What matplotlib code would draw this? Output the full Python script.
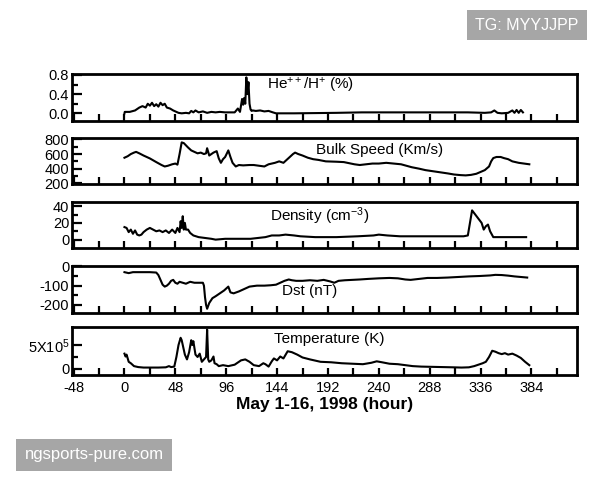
import matplotlib
matplotlib.use("Agg")
import matplotlib.pyplot as plt
from matplotlib.ticker import MultipleLocator, FixedLocator

plt.rcParams['font.family'] = ['Liberation Sans', 'DejaVu Sans']
plt.rcParams['mathtext.fontset'] = 'custom'
plt.rcParams['mathtext.rm'] = 'Liberation Sans'
plt.rcParams['mathtext.it'] = 'Liberation Sans'
plt.rcParams['axes.unicode_minus'] = False

# ---- data (hours since May 1, 1998) ----
he_hours = [0, 0.3, 5, 10, 14, 17, 20, 22, 24, 26, 28, 30, 32, 34, 36, 38, 40, 43, 46, 48, 51, 54, 58, 61, 63, 65, 67,
            70, 74, 78, 82, 86, 90, 95, 100, 104, 107, 109, 111, 112, 113, 114, 115, 116, 117, 118, 119, 120, 121,
            124, 128, 132, 136, 140, 143, 160, 200, 224, 260, 300, 324, 340, 346, 349, 352, 356, 362, 366, 368, 370,
            372, 374, 376]
he_vals = [0.0, 0.03, 0.03, 0.06, 0.12, 0.15, 0.12, 0.2, 0.16, 0.22, 0.15, 0.19, 0.14, 0.22, 0.17, 0.2, 0.12, 0.1, 0.06,
           0.04, 0.01, 0.0, 0.01, 0.0, 0.05, 0.02, 0.06, 0.02, 0.04, 0.01, 0.03, 0.02, 0.03, 0.02, 0.02, 0.02, 0.1,
           0.03, 0.3, 0.18, 0.32, 0.2, 0.75, 0.4, 0.65, 0.2, 0.08, 0.05, 0.06, 0.05, 0.06, 0.04, 0.05, 0.02, 0.0,
           0.0, 0.01, 0.02, 0.02, 0.02, 0.02, 0.01, 0.02, 0.06, 0.01, 0.0, 0.01, 0.06, 0.01, 0.07, 0.01, 0.07, 0.02]

spd_hours = [0, 3, 6, 9, 11, 14, 18, 24, 30, 35, 38, 41, 45, 48, 50, 52, 54, 56, 58, 60, 63, 66, 69, 72, 75, 77, 78,
             80, 82, 84, 87, 89, 91, 93, 95, 98, 100, 102, 105, 108, 112, 118, 122, 127, 132, 136, 139, 142, 146,
             150, 153, 156, 159, 161, 164, 168, 173, 178, 183, 190, 200, 207, 212, 217, 222, 228, 234, 240, 247,
             254, 261, 266, 271, 278, 284, 291, 298, 305, 311, 317, 322, 327, 332, 336, 340, 344, 346, 348, 351,
             355, 358, 362, 366, 372, 377, 382]
spd_vals = [550, 570, 600, 620, 630, 610, 580, 540, 490, 450, 430, 440, 460, 470, 455, 600, 760, 750, 720, 690, 650,
            630, 610, 620, 600, 610, 680, 580, 600, 620, 640, 540, 480, 530, 560, 650, 560, 480, 430, 450, 445, 450,
            450, 440, 430, 460, 470, 480, 500, 480, 520, 560, 600, 620, 600, 580, 550, 530, 520, 500, 495, 490, 475,
            460, 450, 460, 470, 470, 480, 470, 460, 440, 420, 400, 380, 365, 350, 335, 320, 312, 308, 315, 330, 355,
            380, 430, 500, 545, 560, 560, 545, 530, 500, 480, 470, 460]

den_hours = [0, 2, 4, 6, 8, 10, 12, 14, 16, 18, 21, 24, 27, 30, 33, 36, 39, 42, 45, 48, 50, 52, 53, 54, 55, 56, 57, 58,
             60, 62, 65, 70, 76, 82, 86, 95, 110, 119, 126, 133, 139, 146, 152, 160, 166, 180, 200, 220, 235, 240,
             248, 260, 280, 300, 315, 320, 324, 326, 328, 331, 334, 337, 339, 341, 343, 345, 348, 360, 370, 379]
den_vals = [15, 14, 9, 12, 7, 11, 6, 5, 6, 9, 12, 14, 12, 10, 11, 9, 11, 8, 12, 8, 14, 9, 22, 14, 28, 12, 20, 12, 12, 8,
            5, 3, 2, 1, 0, 1, 1, 1, 2, 3, 5, 5, 6, 5, 4, 3, 3, 4, 5, 6, 5, 4, 4, 4, 4, 4, 5, 20, 35, 30, 25, 20, 12,
            16, 18, 10, 3, 3, 3, 3]

dst_hours = [0, 4, 8, 12, 18, 24, 30, 32, 34, 36, 38, 40, 42, 44, 46, 48, 50, 52, 55, 58, 62, 66, 70, 74, 75, 76, 77,
             78, 80, 83, 86, 90, 94, 98, 100, 103, 108, 112, 118, 125, 132, 138, 143, 147, 151, 155, 158, 162, 168,
             175, 182, 188, 194, 198, 202, 208, 215, 222, 230, 240, 250, 258, 265, 270, 278, 286, 295, 305, 315,
             325, 335, 345, 350, 356, 362, 368, 374, 380]
dst_vals = [-30, -35, -30, -30, -30, -30, -32, -45, -70, -95, -105, -100, -90, -75, -70, -85, -90, -80, -85, -90, -80,
            -85, -85, -85, -100, -160, -200, -220, -190, -165, -155, -140, -125, -105, -135, -140, -130, -120, -105,
            -100, -100, -98, -95, -85, -75, -68, -72, -75, -75, -72, -75, -70, -78, -85, -75, -72, -70, -68, -65, -62,
            -60, -62, -68, -70, -65, -60, -60, -58, -55, -52, -50, -47, -44, -45, -48, -52, -55, -58]

tmp_hours = [0, 1, 2, 4, 6, 9, 13, 18, 25, 32, 39, 42, 44, 47, 49, 51, 53, 54, 55, 57, 59, 61, 63, 64, 65, 67, 69, 71,
             73, 75, 77, 78, 79, 80, 82, 84, 85, 87, 89, 93, 98, 104, 110, 114, 118, 122, 127, 131, 133, 136, 139,
             141, 144, 147, 150, 154, 158, 163, 168, 175, 185, 195, 205, 215, 225, 233, 238, 243, 250, 258, 265, 272,
             280, 290, 300, 310, 318, 325, 330, 334, 338, 341, 344, 347, 350, 353, 356, 359, 362, 366, 370, 374, 378,
             382]
tmp_vals = [3.2e5, 2.6e5, 3.0e5, 1.5e5, 1.2e5, 0.6e5, 0.4e5, 0.3e5, 0.3e5, 0.3e5, 0.35e5, 0.6e5, 0.4e5, 0.5e5, 2.5e5,
            5.0e5, 6.5e5, 6.0e5, 5.0e5, 3.0e5, 2.0e5, 3.5e5, 6.0e5, 5.0e5, 5.8e5, 3.0e5, 2.5e5, 3.2e5, 1.5e5, 2.0e5,
            2.5e5, 8.2e5, 2.0e5, 1.5e5, 1.8e5, 2.6e5, 1.2e5, 1.0e5, 0.6e5, 0.8e5, 0.6e5, 0.9e5, 1.8e5, 2.0e5, 1.5e5,
            0.8e5, 0.6e5, 1.2e5, 1.0e5, 0.5e5, 1.6e5, 2.2e5, 1.8e5, 2.6e5, 2.2e5, 3.7e5, 3.5e5, 3.0e5, 2.4e5, 2.0e5,
            1.5e5, 1.4e5, 1.2e5, 1.1e5, 1.0e5, 1.3e5, 1.6e5, 1.4e5, 1.1e5, 1.0e5, 0.8e5, 0.6e5, 0.5e5, 0.45e5,
            0.4e5, 0.35e5, 0.3e5, 0.35e5, 0.6e5, 0.9e5, 1.2e5, 1.5e5, 2.5e5, 3.8e5, 3.6e5, 3.3e5, 3.1e5, 3.3e5,
            3.0e5, 3.2e5, 2.8e5, 2.3e5, 1.5e5, 0.8e5]

panel_titles = [r"He$^{++}$/H$^{+}$ (%)", "Bulk Speed (Km/s)", r"Density (cm$^{-3}$)", "Dst (nT)", "Temperature (K)"]
x_tick_vals = [-48, 0, 48, 96, 144, 192, 240, 288, 336, 384]
xlabel = "May 1-16, 1998 (hour)"

series = [(he_hours, he_vals), (spd_hours, spd_vals), (den_hours, den_vals), (dst_hours, dst_vals),
          (tmp_hours, tmp_vals)]

fig = plt.figure(figsize=(6, 4.8), dpi=100)
W, H = 600.0, 480.0
left, right = 72, 577
boxes = [(74, 121), (138, 184), (202, 248), (266, 313), (327, 375)]
ylims = [(-0.16, 0.82), (190, 820), (-10, 45), (-242, 2), (-1.25e5, 8.75e5)]
title_pos = [(0.473, 0.76), (0.61, 0.73), (0.49, 0.70), (0.47, 0.47), (0.51, 0.74)]

axes = []
for i, (top, bot) in enumerate(boxes):
    ax = fig.add_axes([left / W, 1 - bot / H, (right - left) / W, (bot - top) / H])
    hx, hv = series[i]
    ax.plot(hx, hv, color='black', lw=1.5)
    ax.set_xlim(-49.5, 427)
    ax.set_ylim(*ylims[i])
    for s in ax.spines.values():
        s.set_linewidth(2)
    ax.xaxis.set_major_locator(FixedLocator(x_tick_vals))
    ax.xaxis.set_minor_locator(MultipleLocator(24))
    ax.tick_params(axis='both', which='both', direction='in', width=1.6, top=False, right=False, labelsize=10.5,
                   pad=2)
    ax.tick_params(axis='x', which='both', length=5)
    ax.tick_params(axis='y', which='major', length=7)
    ax.tick_params(axis='y', which='minor', length=4)
    ax.text(title_pos[i][0], title_pos[i][1], panel_titles[i], transform=ax.transAxes, ha='center', va='center',
            fontsize=11)
    if i < 4:
        ax.set_xticklabels([])
    axes.append(ax)

axes[0].set_yticks([0.0, 0.4, 0.8])
axes[0].set_yticklabels(["0.0", "0.4", "0.8"])
axes[0].yaxis.set_minor_locator(FixedLocator([0.2, 0.6]))
axes[1].set_yticks([200, 400, 600, 800])
axes[1].yaxis.set_minor_locator(FixedLocator([300, 500, 700]))
axes[2].set_yticks([0, 20, 40])
axes[2].yaxis.set_minor_locator(FixedLocator([10, 30]))
axes[3].set_yticks([0, -100, -200])
axes[3].yaxis.set_minor_locator(FixedLocator([-50, -150]))
axes[4].set_yticks([0, 5e5])
axes[4].set_yticklabels(["0", r"5X10$^{5}$"])
axes[4].yaxis.set_minor_locator(FixedLocator([2.5e5]))
axes[4].set_xticklabels([str(v) for v in x_tick_vals])
axes[4].tick_params(axis='x', which='major', pad=4)
axes[4].set_xlabel(xlabel, fontsize=12.5, fontweight='bold', labelpad=2)

fig.text(527 / W, 1 - 25 / H, "TG: MYYJJPP", ha='center', va='center', color='white', fontsize=11.5,
         bbox=dict(boxstyle='square,pad=0.5', facecolor='#a6a6a6', edgecolor='none'))
fig.text(94 / W, 1 - 455 / H, "ngsports-pure.com", ha='center', va='center', color='white', fontsize=12,
         bbox=dict(boxstyle='square,pad=0.5', facecolor='#a6a6a6', edgecolor='none'))

fig.savefig("out.png", dpi=100)
